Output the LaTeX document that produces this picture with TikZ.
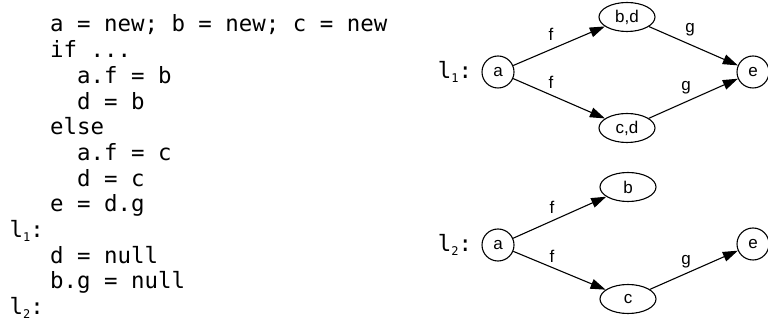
\documentclass[tikz,border=0pt]{standalone}
\usepackage{fontspec}
\setmainfont{Liberation Sans}
\newfontfamily\codefont{DejaVu Sans Mono}
\usetikzlibrary{arrows.meta,shapes.geometric}
\newcommand{\mysub}[1]{\raisebox{-4pt}{\fontsize{12}{12}\selectfont #1}}
\tikzset{
  codeline/.style={anchor=base west, inner sep=0pt, font=\codefont\fontsize{22.4}{26}\selectfont},
  glab/.style={anchor=center, inner sep=0pt, font=\codefont\fontsize{22.4}{26}\selectfont},
  circ/.style={draw, circle, line width=1.1pt, minimum size=32pt, inner sep=0pt, font=\fontsize{17}{20}\selectfont},
  ell/.style={draw, ellipse, line width=1.1pt, minimum width=56pt, minimum height=29pt, inner sep=0pt, font=\fontsize{17}{20}\selectfont},
  edge/.style={line width=1.1pt, -{Triangle[length=15pt,width=10pt]}},
  elab/.style={inner sep=0pt, font=\fontsize{17}{20}\selectfont}
}
\begin{document}
\begin{tikzpicture}[x=1pt,y=-1pt]
\useasboundingbox (0,0) rectangle (768,328);
% code
\def\cx{9.5}
\node[codeline] (cl1)  at (\cx, 32.0)  {\ \ \ a = new; b = new; c = new};
\node[codeline] (cl2)  at (\cx, 57.7)  {\ \ \ if ...};
\node[codeline] (cl3)  at (\cx, 83.4)  {\ \ \ \ \ a.f = b};
\node[codeline] (cl4)  at (\cx, 109.1) {\ \ \ \ \ d = b};
\node[codeline] (cl5)  at (\cx, 134.8) {\ \ \ else};
\node[codeline] (cl6)  at (\cx, 160.5) {\ \ \ \ \ a.f = c};
\node[codeline] (cl7)  at (\cx, 186.2) {\ \ \ \ \ d = c};
\node[codeline] (cl8)  at (\cx, 211.9) {\ \ \ e = d.g};
\node[codeline] (cl9)  at (\cx, 237.6) {l\mysub{1}:};
\node[codeline] (cl10) at (\cx, 263.3) {\ \ \ d = null};
\node[codeline] (cl11) at (\cx, 289.0) {\ \ \ b.g = null};
\node[codeline] (cl12) at (\cx, 314.7) {l\mysub{2}:};
% graph 1
\node[glab] (l1lab) at (455,72) {l\mysub{1}:};
\node[circ] (a1) at (498,72) {a};
\node[ell]  (bd) at (627,17) {b,d};
\node[ell]  (cd) at (627,128) {c,d};
\node[circ] (e1) at (753,72) {e};
\draw[edge] (a1) -- (bd);
\draw[edge] (a1) -- (cd);
\draw[edge] (bd) -- (e1);
\draw[edge] (cd) -- (e1);
\node[elab] (f1) at (551,34) {f};
\node[elab] (f2) at (551,82) {f};
\node[elab] (g1) at (690,30) {g};
\node[elab] (g2) at (686,88) {g};
% graph 2
\node[glab] (l2lab) at (455,245) {l\mysub{2}:};
\node[circ] (a2) at (498,245) {a};
\node[ell]  (b2) at (628,187) {b};
\node[ell]  (c2) at (628,299) {c};
\node[circ] (e2) at (753,244) {e};
\draw[edge] (a2) -- (b2);
\draw[edge] (a2) -- (c2);
\draw[edge] (c2) -- (e2);
\node[elab] (f3) at (552,207) {f};
\node[elab] (f4) at (552,256) {f};
\node[elab] (g3) at (686,262) {g};
\end{tikzpicture}
\end{document}
